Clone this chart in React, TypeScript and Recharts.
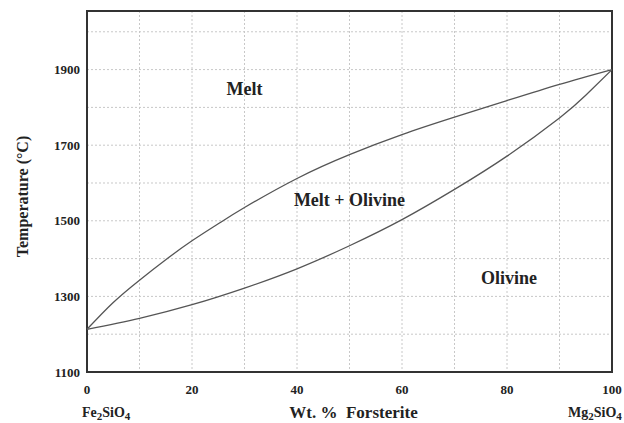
import { CartesianGrid, Label, Line, LineChart, ReferenceArea, ReferenceDot, XAxis, YAxis } from 'recharts';

// liquidus (upper curve) and solidus (lower curve), wt.% forsterite vs temperature
const liquidus = [
  { x: 0, t: 1213 },
  { x: 5, t: 1284 },
  { x: 10, t: 1343 },
  { x: 15, t: 1397 },
  { x: 20, t: 1447 },
  { x: 25, t: 1492 },
  { x: 30, t: 1535 },
  { x: 40, t: 1612 },
  { x: 50, t: 1675 },
  { x: 60, t: 1728 },
  { x: 70, t: 1774 },
  { x: 80, t: 1818 },
  { x: 90, t: 1861 },
  { x: 100, t: 1900 },
];

const solidus = [
  { x: 0, t: 1213 },
  { x: 10, t: 1242 },
  { x: 20, t: 1278 },
  { x: 30, t: 1322 },
  { x: 40, t: 1373 },
  { x: 50, t: 1434 },
  { x: 60, t: 1503 },
  { x: 70, t: 1583 },
  { x: 80, t: 1671 },
  { x: 90, t: 1772 },
  { x: 95, t: 1832 },
  { x: 100, t: 1900 },
];

const xTicks = [0, 20, 40, 60, 80, 100];
const yTicks = [1100, 1300, 1500, 1700, 1900];
const xGrid = [10, 20, 30, 40, 50, 60, 70, 80, 90];
const yGrid = [1200, 1300, 1400, 1500, 1600, 1700, 1800, 1900, 2000];

const fields = [
  { x: 30, t: 1850, text: 'Melt' },
  { x: 50, t: 1556, text: 'Melt + Olivine' },
  { x: 80.4, t: 1350, text: 'Olivine' },
];

const FONT = '"Liberation Serif", "Times New Roman", serif';
const INK = '#222';

const fieldLabel = (text: string) => (props: any) => (
  <text x={props.cx} y={props.cy} dy="0.35em" textAnchor="middle" fontFamily={FONT} fontWeight="bold" fontSize={18} fill={INK}>
    {text}
  </text>
);

const renderYLabel = (props: any) => {
  const vb = props.viewBox;
  const cx = vb.x + 22;
  const cy = vb.y + vb.height / 2 + 5;
  return (
    <text x={cx} y={cy} transform={`rotate(-90 ${cx} ${cy})`} dy="0.35em" textAnchor="middle" fontFamily={FONT} fontWeight="bold" fontSize={16} fill={INK}>
      Temperature (°C)
    </text>
  );
};

const formula = (x: number, y: number, metal: string) => (
  <text x={x} y={y} fontSize={14}>
    {metal}
    <tspan fontSize={11} dy={3}>2</tspan>
    <tspan dy={-3}>SiO</tspan>
    <tspan fontSize={11} dy={3}>4</tspan>
  </text>
);

const renderXLabel = (props: any) => {
  const vb = props.viewBox;
  const base = vb.y + 46;
  return (
    <g fontFamily={FONT} fontWeight="bold" fill={INK}>
      <text x={vb.x + vb.width / 2 + 4} y={base} textAnchor="middle" fontSize={17} xmlSpace="preserve">
        {'Wt. %  Forsterite'}
      </text>
      {formula(vb.x - 5, base - 1, 'Fe')}
      {formula(vb.x + vb.width - 44, base - 1, 'Mg')}
    </g>
  );
};

export default function App() {
  const tickStyle = { fontFamily: FONT, fontWeight: 'bold', fontSize: 13, fill: INK };
  return (
    <div style={{ position: 'absolute', left: 0, top: 0, background: '#fff' }}>
      <LineChart width={624} height={423} margin={{ top: 11, right: 12, bottom: 0, left: 0 }}>
        <CartesianGrid stroke="#c8c8c8" strokeDasharray="2 2" verticalValues={xGrid} horizontalValues={yGrid} />
        <XAxis
          type="number"
          dataKey="x"
          domain={[0, 100]}
          ticks={xTicks}
          height={51}
          tickLine={false}
          axisLine={false}
          tickMargin={7}
          tick={tickStyle}
        >
          <Label content={renderXLabel} />
        </XAxis>
        <YAxis
          type="number"
          dataKey="t"
          domain={[1100, 2055]}
          ticks={yTicks}
          width={87}
          tickLine={false}
          axisLine={false}
          tickMargin={1}
          tick={tickStyle}
        >
          <Label content={renderYLabel} />
        </YAxis>
        <Line data={liquidus} dataKey="t" type="natural" stroke="#555" strokeWidth={1.3} dot={false} isAnimationActive={false} />
        <Line data={solidus} dataKey="t" type="natural" stroke="#555" strokeWidth={1.3} dot={false} isAnimationActive={false} />
        <ReferenceArea x1={0} x2={100} y1={1100} y2={2055} fill="none" stroke="#333" strokeWidth={2} ifOverflow="visible" />
        {fields.map((f) => (
          <ReferenceDot key={f.text} x={f.x} y={f.t} r={0} shape={fieldLabel(f.text)} />
        ))}
      </LineChart>
    </div>
  );
}
